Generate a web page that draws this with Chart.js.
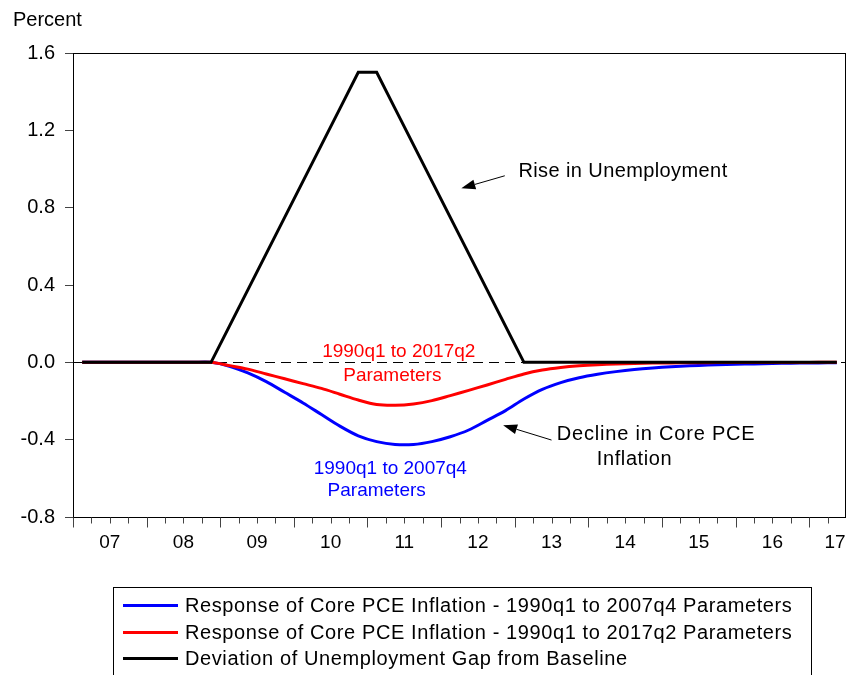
<!DOCTYPE html>
<html>
<head>
<meta charset="utf-8">
<script src="https://cdn.jsdelivr.net/npm/chart.js@4.4.1/dist/chart.umd.min.js"></script>
<style>
  html, body { margin: 0; padding: 0; background: #fff; }
  #wrap { position: relative; width: 846px; height: 675px; overflow: hidden; }
  #legend {
    position: absolute; left: 113px; top: 587px; width: 699px; height: 100px;
    border: 1px solid #000; box-sizing: border-box; padding-top: 4px;
    font: 20px "Liberation Sans", Arial, sans-serif; letter-spacing: 0.6px; color: #000;
  }
  .row { height: 26.7px; display: flex; align-items: center; white-space: nowrap; }
  .swatch { width: 55px; height: 3px; margin-left: 9px; margin-right: 7px; }
</style>
</head>
<body>
<div id="wrap">
  <canvas id="chart" width="846" height="675"></canvas>
  <div id="legend"></div>
</div>
<script>
// quarterly, 2007q1 .. 2017q2
const quarters = [
  '2007Q1','2007Q2','2007Q3','2007Q4','2008Q1','2008Q2','2008Q3','2008Q4',
  '2009Q1','2009Q2','2009Q3','2009Q4','2010Q1','2010Q2','2010Q3','2010Q4',
  '2011Q1','2011Q2','2011Q3','2011Q4','2012Q1','2012Q2','2012Q3','2012Q4',
  '2013Q1','2013Q2','2013Q3','2013Q4','2014Q1','2014Q2','2014Q3','2014Q4',
  '2015Q1','2015Q2','2015Q3','2015Q4','2016Q1','2016Q2','2016Q3','2016Q4',
  '2017Q1','2017Q2'
];
const yearLabels = ['07','08','09','10','11','12','13','14','15','16','17'];
const yTicks = [-0.8, -0.4, 0.0, 0.4, 0.8, 1.2, 1.6];

const pce2007q4 = [
  0, 0, 0, 0, 0, 0, 0, 0,
  -0.02, -0.055, -0.10, -0.155, -0.21, -0.27, -0.33, -0.38,
  -0.41, -0.425, -0.425, -0.41, -0.385, -0.35, -0.30, -0.25,
  -0.19, -0.14, -0.105, -0.08, -0.062, -0.048, -0.037, -0.029,
  -0.023, -0.018, -0.014, -0.011, -0.009, -0.007, -0.005, -0.004,
  -0.003, -0.002
];
const pce2017q2 = [
  0, 0, 0, 0, 0, 0, 0, 0,
  -0.017, -0.035, -0.06, -0.085, -0.11, -0.135, -0.165, -0.195,
  -0.218, -0.222, -0.215, -0.198, -0.172, -0.145, -0.117, -0.088,
  -0.06, -0.04, -0.027, -0.018, -0.012, -0.008, -0.006, -0.004,
  -0.003, -0.002, -0.002, -0.001, -0.001, -0.001, -0.001, -0.001,
  0, 0
];
const unempGap = [
  0, 0, 0, 0, 0, 0, 0, 0,
  0.1875, 0.375, 0.5625, 0.75, 0.9375, 1.125, 1.3125, 1.5,
  1.5, 1.3125, 1.125, 0.9375, 0.75, 0.5625, 0.375, 0.1875,
  0, 0, 0, 0, 0, 0, 0, 0,
  0, 0, 0, 0, 0, 0, 0, 0,
  0, 0
];

const seriesNames = [
  'Response of Core PCE Inflation - 1990q1 to 2007q4 Parameters',
  'Response of Core PCE Inflation - 1990q1 to 2017q2 Parameters',
  'Deviation of Unemployment Gap from Baseline'
];
const seriesColors = ['#0000ff', '#ff0000', '#000000'];

const FONT = '"Liberation Sans", Arial, sans-serif';

// text notes placed in data units (x = quarters since 2007q1)
const notes = [
  { text: 'Rise in Unemployment', x: 24.2, y: 0.985, color: '#000', align: 'left', size: 20, sp: 0.4 },
  { text: '1990q1 to 2017q2', x: 17.7, y: 0.055, color: '#ff0000', align: 'center', size: 19, sp: 0 },
  { text: 'Parameters', x: 17.35, y: -0.071, color: '#ff0000', align: 'center', size: 19, sp: 0 },
  { text: '1990q1 to 2007q4', x: 17.24, y: -0.549, color: '#0000ff', align: 'center', size: 19, sp: 0 },
  { text: 'Parameters', x: 16.5, y: -0.665, color: '#0000ff', align: 'center', size: 19, sp: 0 },
  { text: 'Decline in Core PCE', x: 26.29, y: -0.371, color: '#000', align: 'left', size: 20, sp: 0.8 },
  { text: 'Inflation', x: 28.46, y: -0.501, color: '#000', align: 'left', size: 20, sp: 0.6 }
];
const arrows = [
  { from: [23.46, 0.965], to: [21.1, 0.90] },
  { from: [26.0, -0.402], to: [23.37, -0.325] }
];

const toPoints = arr => arr.map((v, i) => ({ x: i + 0.5, y: v }));

const extras = {
  id: 'extras',
  beforeDatasetsDraw(chart) {
    const { ctx, chartArea: a, scales: { y } } = chart;
    const y0 = Math.round(y.getPixelForValue(0)) + 0.5;
    ctx.save();
    ctx.strokeStyle = '#000';
    ctx.lineWidth = 1;
    ctx.setLineDash([10, 6]);
    ctx.beginPath();
    ctx.moveTo(a.left, y0);
    ctx.lineTo(a.right, y0);
    ctx.stroke();
    ctx.restore();
  },
  afterDraw(chart) {
    const { ctx, chartArea: a, scales: { x, y } } = chart;
    ctx.save();
    // frame
    ctx.strokeStyle = '#000';
    ctx.lineWidth = 1;
    ctx.strokeRect(Math.round(a.left) + 0.5, Math.round(a.top) + 0.5,
      Math.round(a.right - a.left) - 1, Math.round(a.bottom - a.top));
    // quarter / year tick marks on the x axis
    ctx.strokeStyle = '#444';
    const yb = Math.round(a.bottom) + 0.5;
    for (let i = 0; i <= quarters.length; i++) {
      const px = Math.round(x.getPixelForValue(i)) + 0.5;
      ctx.beginPath();
      ctx.moveTo(px, yb);
      ctx.lineTo(px, yb + (i % 4 === 0 ? 10 : 6));
      ctx.stroke();
    }
    // unit label
    ctx.fillStyle = '#000';
    ctx.font = '20px ' + FONT;
    ctx.textAlign = 'left';
    ctx.textBaseline = 'middle';
    ctx.fillText('Percent', 13, 20);
    // notes
    notes.forEach(n => {
      ctx.font = n.size + 'px ' + FONT;
      ctx.letterSpacing = n.sp + 'px';
      ctx.fillStyle = n.color;
      ctx.textAlign = n.align;
      ctx.fillText(n.text, x.getPixelForValue(n.x), y.getPixelForValue(n.y));
    });
    ctx.letterSpacing = '0px';
    // arrows
    ctx.strokeStyle = '#000';
    ctx.fillStyle = '#000';
    arrows.forEach(ar => {
      const x1 = x.getPixelForValue(ar.from[0]), y1 = y.getPixelForValue(ar.from[1]);
      const x2 = x.getPixelForValue(ar.to[0]), y2 = y.getPixelForValue(ar.to[1]);
      const ang = Math.atan2(y2 - y1, x2 - x1);
      const len = 14, half = 5;
      const bx = x2 - len * Math.cos(ang), by = y2 - len * Math.sin(ang);
      ctx.beginPath();
      ctx.moveTo(x1, y1);
      ctx.lineTo(bx, by);
      ctx.stroke();
      ctx.beginPath();
      ctx.moveTo(x2, y2);
      ctx.lineTo(bx + half * Math.sin(ang), by - half * Math.cos(ang));
      ctx.lineTo(bx - half * Math.sin(ang), by + half * Math.cos(ang));
      ctx.closePath();
      ctx.fill();
    });
    ctx.restore();
  }
};

new Chart(document.getElementById('chart'), {
  type: 'line',
  data: {
    datasets: [
      { label: seriesNames[2], data: toPoints(unempGap), borderColor: seriesColors[2], borderWidth: 3, tension: 0 },
      { label: seriesNames[1], data: toPoints(pce2017q2), borderColor: seriesColors[1], borderWidth: 3, tension: 0.3 },
      { label: seriesNames[0], data: toPoints(pce2007q4), borderColor: seriesColors[0], borderWidth: 3, tension: 0.3 }
    ]
  },
  options: {
    responsive: false,
    animation: false,
    events: [],
    layout: { padding: { top: 53, right: 0, bottom: 98, left: 0 } },
    elements: { point: { radius: 0 }, line: { borderCapStyle: 'butt', borderJoinStyle: 'miter' } },
    plugins: { legend: { display: false }, tooltip: { enabled: false } },
    scales: {
      x: {
        type: 'linear',
        min: 0,
        max: quarters.length,
        afterBuildTicks: s => {
          s.ticks = yearLabels.map((_, k) => ({ value: Math.min(4 * k + 2, quarters.length - 0.6) }));
        },
        ticks: {
          autoSkip: false, maxRotation: 0, padding: 14, color: '#000',
          font: { size: 19, family: FONT },
          callback: (v, i) => yearLabels[i]
        },
        grid: { display: false, drawTicks: false },
        border: { display: false },
        afterFit: s => { s.height = 60; s.paddingLeft = 0; s.paddingRight = 0; }
      },
      y: {
        min: -0.8,
        max: 1.6,
        afterBuildTicks: s => { s.ticks = yTicks.map(v => ({ value: v })); },
        ticks: {
          padding: 10, color: '#000',
          font: { size: 20, family: FONT },
          callback: v => v.toFixed(1)
        },
        grid: { drawOnChartArea: false, drawTicks: true, tickLength: 8, tickColor: '#444' },
        border: { display: false },
        afterFit: s => { s.width = 73; s.paddingTop = 0; s.paddingBottom = 0; }
      }
    }
  },
  plugins: [extras]
});

// legend box below the plot
const legend = document.getElementById('legend');
seriesNames.forEach((name, i) => {
  const row = document.createElement('div');
  row.className = 'row';
  const sw = document.createElement('span');
  sw.className = 'swatch';
  sw.style.background = seriesColors[i];
  const label = document.createElement('span');
  label.textContent = name;
  row.appendChild(sw);
  row.appendChild(label);
  legend.appendChild(row);
});
</script>
</body>
</html>
